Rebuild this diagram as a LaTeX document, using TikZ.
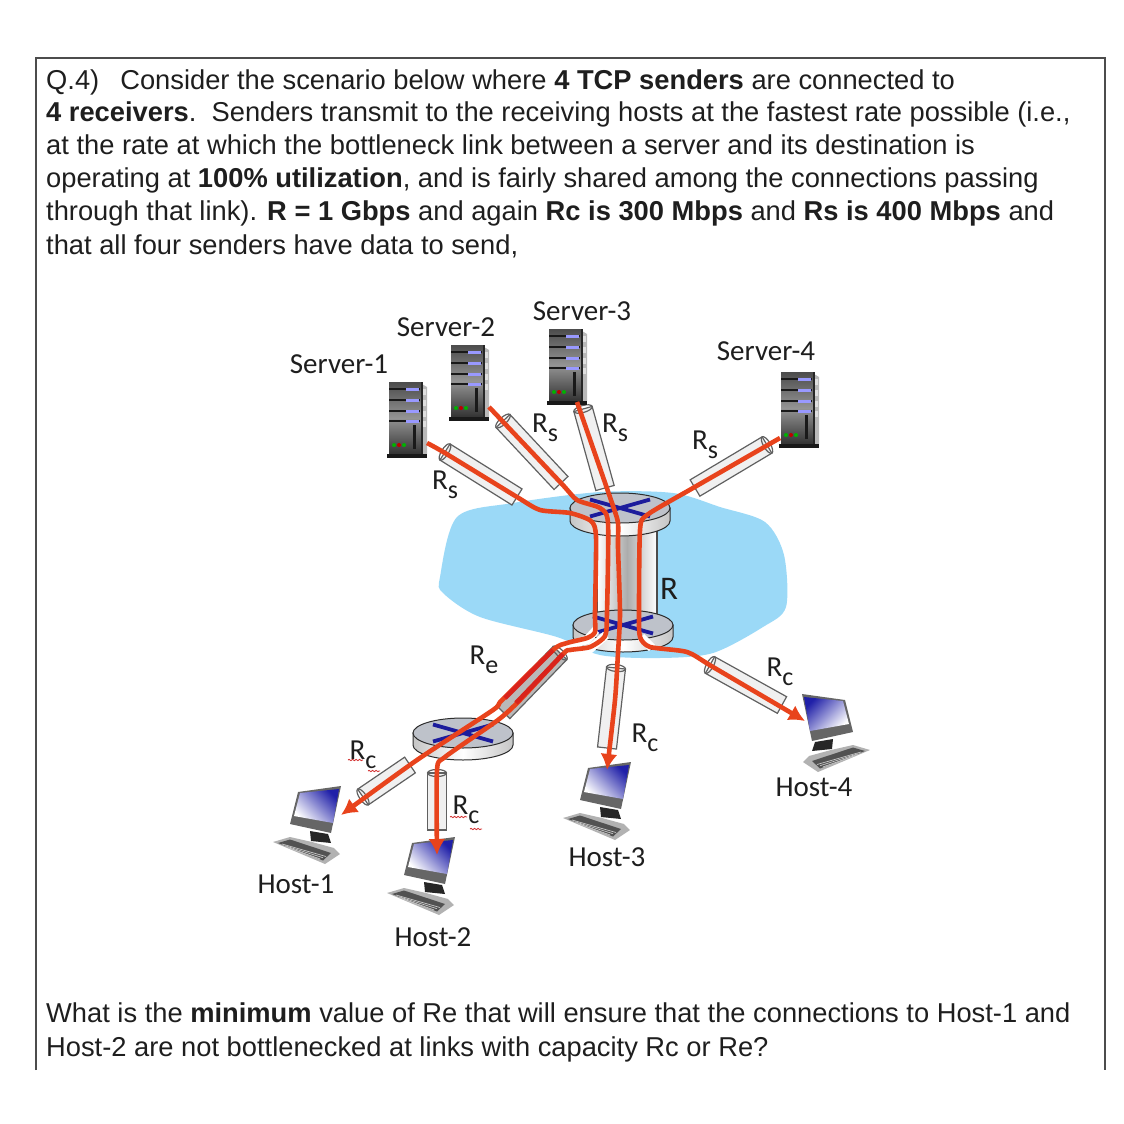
\documentclass[tikz,border=0pt]{standalone}
\usepackage{fontspec}
\setmainfont{Liberation Sans}
\newfontfamily\labelfont{Carlito}
\usepackage{xcolor}
\usepackage{tikz}
\usetikzlibrary{calc, arrows.meta, decorations.pathmorphing}

\definecolor{cloudblue}{HTML}{9BD9F7}
\definecolor{flowred}{HTML}{E8431C}
\definecolor{darkred}{HTML}{D9231C}
\definecolor{routertop}{HTML}{BEC2CA}
\definecolor{routerblue}{HTML}{1C1C9C}
\definecolor{screenblue}{HTML}{2020A8}
\definecolor{inktext}{HTML}{1E1E1E}

\tikzset{
  qline/.style={anchor=base west, inner sep=0pt, text=inktext, font=\fontsize{27.3}{33}\selectfont},
  devlabel/.style={inner sep=0pt, text=inktext, font=\labelfont\fontsize{29}{32}\selectfont},
  tube/.style={draw=gray!75!black, line width=1.2pt},
  flow/.style={draw=flowred, line width=4.6pt, line join=round},
  flowtip/.style={flow, -{Latex[length=16pt,width=17pt]}},
  halo/.style={draw=white, line width=8.5pt},
  spell/.style={draw=red!65!gray, line width=.8pt, decorate, decoration={snake, amplitude=.7pt, segment length=3.5pt}},
}
\newcommand{\lnk}[1]{R\raisebox{-.3em}{\fontsize{26}{26}\selectfont #1}}

\begin{document}
\begin{tikzpicture}[x=1pt, y=-1pt]
\useasboundingbox (0,0) rectangle (1124,1124);

%//question frame, open at the bottom
\draw [gray!60!black, line width=1.3pt] (36,1070) -- (36,58) -- (1105,58) -- (1105,1070);

\foreach \y/\val in {89/{Q.4)\hspace{21pt}Consider the scenario below where \textbf{4 TCP senders} are connected to},
121/{\textbf{4 receivers}.\ \ Senders transmit to the receiving hosts at the fastest rate possible (i.e.,},
154/{at the rate at which the bottleneck link between a server and its destination is},
187/{operating at \textbf{100\% utilization}, and is fairly shared among the connections passing},
220/{through that link). \textbf{R = 1 Gbps} and again \textbf{Rc is 300 Mbps} and \textbf{Rs is 400 Mbps} and},
254/{that all four senders have data to send,},
1022/{What is the \textbf{minimum} value of Re that will ensure that the connections to Host-1 and},
1056/{Host-2 are not bottlenecked at links with capacity Rc or Re?}}
\node [qline] (line\y) at (46,\y) {\val};

%//cloud
\fill [cloudblue] plot [smooth cycle, tension=.5] coordinates {(440,577) (457,517) (513,503) (600,492) (673,493) (720,507) (765,522) (784,555) (786,607) (763,627) (713,653) (660,658) (600,655) (557,637) (480,617) (443,593)};

%//link between the two routers
\shade [left color=white, right color=white, middle color=gray!65] (597,530) rectangle (657,620);
\draw [gray!60!black, line width=1.2pt] (597,530) -- (597,620) (657,530) -- (657,620);

%//routers
\foreach \x/\y/\h in {620/508/13, 623/625/12, 463/733/12}{
\begin{scope}[shift={(\x,\y)}]
\draw [gray!35!black, line width=1pt, left color=gray!45, right color=gray!45, middle color=white] (-50,0) -- (-50,\h) arc [start angle=180, end angle=360, x radius=50pt, y radius=15pt] -- (50,0) -- cycle;
\draw [gray!35!black, line width=1pt, fill=routertop] (0,0) ellipse [x radius=50pt, y radius=15pt];
\draw [routerblue, line width=3.8pt] (-30,-8.5) -- (30,8.5) (-30,8.5) -- (30,-8.5);
\end{scope}
}

%//tubes: first point is the end with the open rim
\foreach \x/\y/\xb/\yb/\col in {445/452/517/497/gray!12, 503/421/561/483/gray!12, 583/409/605/488/gray!12, 767/445/695/488/gray!12,
560/653/503/712/gray!55, 710/665/782/705/gray!12, 616/668/607/748/gray!12, 363/797/410/765/gray!12, 437/773/437/830/gray!12}{
\pgfmathsetmacro\ang{atan2(\y-\yb,\xb-\x)}
\pgfmathsetmacro\len{veclen(\xb-\x,\yb-\y)}
\begin{scope}[shift={(\x,\y)}, rotate=\ang]
\draw [tube, fill=\col] (0,-9.5) -- (\len,-9.5) -- (\len,9.5) -- (0,9.5) -- cycle;
\draw [tube] (0,0) ellipse [x radius=3.5pt, y radius=9.5pt];
\end{scope}
}

%//servers
\foreach \x/\y/\i in {389/382/1, 451/345/2, 549/329/3, 781/372/4}{
\begin{scope}[shift={(\x,\y)}]
\fill [gray!55] (33,2) -- (38,5) -- (38,72) -- (33,72) -- cycle;
\foreach \s in {10,21,32,42}
\fill [gray!25] (34,\s-3) rectangle (37,\s+3);
\shade [top color=black!70, bottom color=black!80, middle color=black!42] (0,0) rectangle (33,72);
\fill [black!85] (31.5,0) rectangle (33.5,72);
\fill [black!90] (-2,72) rectangle (38,76);
\foreach \s in {7,18,29,39}{
\fill [black!90] (0,\s-1) rectangle (31,\s+1);
\fill [blue!40!white] (17,\s-1.5) rectangle (30,\s+1.5);
}
\fill [black!90] (24,43) rectangle (27,67);
\fill [green!70!black] (5,63) circle (2pt);
\fill [red!75!black] (10,63) circle (2pt);
\fill [green!70!black] (15,63) circle (2pt);
\coordinate (srvbox\i) at (0,0);
\end{scope}
}

%//hosts
\foreach \x/\y/\s/\a/\i in {298/792/1/-45/1, 412/843/1/-45/2, 588/768/1/-45/3, 845/700/-1/45/4}{
\begin{scope}[shift={(\x,\y)}, xscale=\s]
\fill [gray!60] (-25,50) -- (-8,45) -- (14,50) -- (36,56) -- (42,62) -- (27,72) -- cycle;
\fill [black!68] (-20,51) -- (-8,47.5) -- (33,61) -- (25,68.5) -- cycle;
\foreach \k in {0,1,2}
\draw [gray!45, line width=.7pt] (-16+3*\k,52+1.8*\k) -- (28-3*\k,64.5+1.2*\k);
\fill [black!85] (12,39) -- (30,42) -- (33,51) -- (13,49) -- cycle;
\fill [black!60] (0,0) -- (43,-6) -- (33,41) -- (-8,32) -- cycle;
\shade [top color=screenblue, middle color=screenblue!22!white, bottom color=white, shading angle=\a] (2,1) -- (41,-3) -- (35,31) -- (-4,24) -- cycle;
\coordinate (hstbox\i) at (0,0);
\end{scope}
}

%//flows
\coordinate (srv1) at (427,443);
\coordinate (srv2) at (489,407);
\coordinate (srv3) at (577,402);
\coordinate (srv4) at (780,438);
\coordinate (hst1) at (341,815);
\coordinate (hst2) at (437,855);
\coordinate (hst3) at (607,770);
\coordinate (hst4) at (805,721);

\draw [halo] (596,630) -- (587,640) -- (566,646);
\draw [halo] (606,635) -- (590,649) -- (570,653);
\draw [halo] (641,637) -- (652,648);

\draw [flowtip] plot [smooth, tension=.4] coordinates {(srv1) (445,453) (517,497) (540,510) (570,513) (591,521) (596,537) (595,613) (595,632) (587,638) (567,643) (553,650) (502,700) (493,710) (417,760) (hst1)};
\draw [flowtip] plot [smooth, tension=.4] coordinates {(srv2) (561,483) (577,500) (600,508) (608,523) (607,613) (605,636) (590,647) (570,650) (563,654) (520,700) (498,720) (445,757) (437,770) (hst2)};
\draw [flowtip] plot [smooth, tension=.4] coordinates {(srv3) (612,503) (618,523) (618,547) (620,613) (618,653) (615,700) (hst3)};
\draw [flowtip] plot [smooth, tension=.4] coordinates {(srv4) (693,488) (647,515) (640,530) (639,613) (640,637) (650,647) (687,652) (713,667) (hst4)};

%//the two flows inside the shared link
\draw [darkred, line width=4.6pt] (553,650) -- (505,698);
\draw [darkred, line width=4.6pt] (563,654) -- (516,703);

%//labels
\foreach \x/\y/\val in {339/364/Server-1, 446/327/Server-2, 582/311/Server-3, 766/351/Server-4,
296/884/Host-1, 433/937/Host-2, 607/857/Host-3, 814/787/Host-4}
\node [devlabel] (lab\val) at (\x,\y) {\val};

\foreach \x/\y/\n/\val in {445/485/a/s, 545/428/b/s, 615/428/c/s, 705/445/d/s, 484/660/e/e,
780/672/f/c, 645/738/g/c, 363/755/h/c, 466/810/i/c}
\node [devlabel] (rate\n) at (\x,\y) {\lnk{\val}};
\node [devlabel, font=\labelfont\fontsize{33}{36}\selectfont] (ratemain) at (669,589) {R};

%//spell-check marks under the two Rc labels
\draw [spell] (348,760) -- (363,760);
\draw [spell] (368,771) -- (380,771);
\draw [spell] (450,817) -- (467,817);
\draw [spell] (470,829) -- (482,829);
\end{tikzpicture}
\end{document}
